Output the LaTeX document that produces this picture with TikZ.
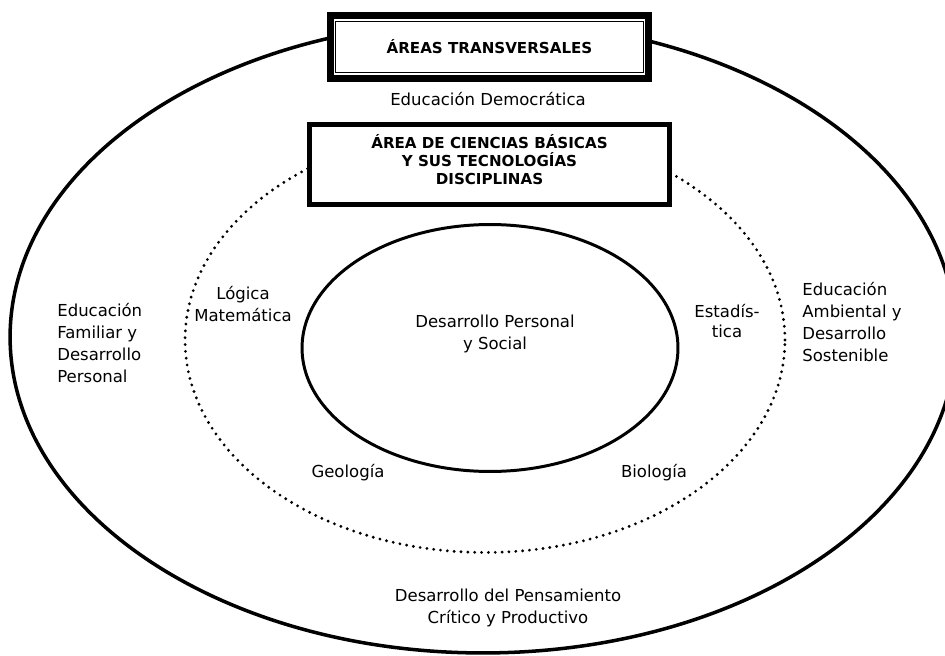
\documentclass[tikz,border=0pt]{standalone}
\usepackage{fontspec}
\setmainfont{DejaVu Sans}
\usetikzlibrary{shapes.geometric,positioning}

\tikzset{
  ring/.style={ellipse, draw, inner sep=0pt},
  headbox/.style={draw, fill=white, inner sep=0pt},
  txt/.style={font=\fontsize{9.4pt}{12.5pt}\selectfont, align=center, inner sep=0pt},
  headtxt/.style={font=\fontsize{8.6pt}{10.2pt}\selectfont\bfseries, align=center, inner sep=0pt}
}

\begin{document}
\begin{tikzpicture}[x=0.02cm, y=-0.02cm]
  \useasboundingbox (0,0) rectangle (945,655);

  % the three rings
  \node[ring, line width=2pt, minimum width=18.92cm, minimum height=12.64cm] (outer) at (483,337) {};
  \node[ring, line width=1.8pt, line cap=round, dash pattern=on 0pt off 3.9pt,
        minimum width=12cm, minimum height=8.5cm] (disc) at (485,340) {};
  \node[ring, line width=1.7pt, minimum width=7.52cm, minimum height=4.94cm] (core) at (490,348) {};

  % boxes on top
  \node[headbox, line width=3.7pt, minimum width=6.37cm, minimum height=1.27cm] (transvframe) at (489.5,47) {};
  \node[headbox, line width=0.7pt, minimum width=6.16cm, minimum height=1.02cm] (transv) at (transvframe.center) {};
  \node[headtxt] (transvtxt) at (transv.center) {ÁREAS TRANSVERSALES};

  \node[headbox, line width=2.8pt, minimum width=7.2cm, minimum height=1.6cm] (ciencias) at (489.5,164.5) {};
  \node[headtxt] (cienciastxt) at (489.5,160) {ÁREA DE CIENCIAS BÁSICAS\\Y SUS TECNOLOGÍAS\\DISCIPLINAS};

  % outer ring texts
  \node[txt] (democ) at (488,99) {Educación Democrática};
  \node[txt, align=left, anchor=west] (familiar) at (57,343) {Educación\\Familiar y\\Desarrollo\\Personal};
  \node[txt, align=left, anchor=west] (ambiental) at (802,322) {Educación\\Ambiental y\\Desarrollo\\Sostenible};
  \node[txt] (pensamiento) at (508,608) {Desarrollo del Pensamiento\\Crítico y Productivo};

  % disciplines
  \node[txt] (logica) at (243,304) {Lógica\\Matemática};
  \node[txt, font=\fontsize{9.4pt}{11pt}\selectfont] (estad) at (727,321) {Estadís-\\tica};
  \node[txt] (geo) at (348,473) {Geología};
  \node[txt] (bio) at (654,473) {Biología};

  % centre
  \node[txt] (personal) at (495,334) {Desarrollo Personal\\y Social};
\end{tikzpicture}
\end{document}
